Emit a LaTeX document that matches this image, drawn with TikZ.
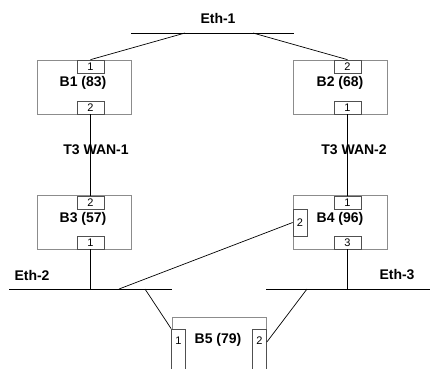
\documentclass[tikz,border=0pt]{standalone}
\usepackage{fontspec}
\setmainfont{Liberation Sans}
\usetikzlibrary{calc}
\definecolor{boxgray}{HTML}{8C8C8C}
\definecolor{portgray}{HTML}{505050}
\begin{document}
\begin{tikzpicture}[x=1pt,y=-1pt,
  bridge/.style={draw=boxgray,line width=0.9pt,inner sep=0pt,minimum width=94pt,minimum height=54pt},
  hport/.style={draw=portgray,fill=white,line width=0.7pt,inner sep=0pt,minimum width=27pt,minimum height=13pt,font=\fontsize{11}{11}\selectfont},
  vport/.style={draw=portgray,fill=white,line width=0.7pt,inner sep=0pt,minimum width=14pt,minimum height=27pt,font=\fontsize{11}{11}\selectfont},
  vportb/.style={vport,minimum height=41pt},
  lbl/.style={font=\fontsize{14}{14}\selectfont\bfseries,inner sep=0pt},
  lan/.style={line width=1pt},
  wire/.style={line width=0.7pt}]
\useasboundingbox (0,0) rectangle (430,368);
\clip (0,0) rectangle (430,368);
% LAN segments
\coordinate (e1w) at (131,33); \coordinate (e1e) at (294,33);
\coordinate (e2w) at (9,289);  \coordinate (e2e) at (172,289);
\coordinate (e3w) at (266,289); \coordinate (e3e) at (430,289);
\draw[lan] (e1w) -- (e1e);
\draw[lan] (e2w) -- (e2e);
\draw[lan] (e3w) -- (e3e);
\node[lbl] (l1) at (218,18) {Eth-1};
\node[lbl] (l2) at (32,275) {Eth-2};
\node[lbl] (l3) at (397,274) {Eth-3};
% bridges
\node[bridge] (B1) at (84,87) {};
\node[bridge] (B2) at (340.5,87) {};
\node[bridge] (B3) at (84,222.5) {};
\node[bridge] (B4) at (340.5,222.5) {};
\node[bridge,minimum height=90pt] (B5) at (219.5,362) {};
\node[lbl] (t1) at (83,83) {B1 (83)};
\node[lbl] (t2) at (340,83) {B2 (68)};
\node[lbl] (t3) at (83,219) {B3 (57)};
\node[lbl] (t4) at (340,219) {B4 (96)};
\node[lbl] (t5) at (218,340) {B5 (79)};
% ports
\node[hport] (p11) at (90.5,66.5) {1};
\node[hport] (p12) at (90.5,107.5) {2};
\node[hport] (p22) at (347.5,66.5) {2};
\node[hport] (p21) at (347.5,107.5) {1};
\node[hport] (p32) at (90.5,202.5) {2};
\node[hport] (p31) at (90.5,242.5) {1};
\node[hport] (p41) at (347.5,202.5) {1};
\node[hport] (p43) at (347.5,242.5) {3};
\node[vport] (p42) at (300,222.5) {2};
\node[vportb] (p51) at (178.5,349.5) {};
\node[vportb] (p52) at (259.5,349.5) {};
\node[font=\fontsize{11}{11}\selectfont,inner sep=0pt] (n51) at (178.5,341) {1};
\node[font=\fontsize{11}{11}\selectfont,inner sep=0pt] (n52) at (259.5,341) {2};
% links
\draw[wire] (185,33) -- (p11.north);
\draw[wire] (253,33) -- (p22.north);
\draw[wire] (p12.south) -- (p32.north);
\draw[wire] (p21.south) -- (p41.north);
\draw[wire] (p31.south) -- (p31.south |- e2w);
\draw[wire] (p43.south) -- (p43.south |- e3w);
\draw[wire] (119,289) -- (p42.west);
\draw[wire] (145,289) -- (p51.north west);
\draw[wire] (307,289) -- ([yshift=7.5pt]p52.east);
\node[lbl,fill=none] (w1) at (96,150) {T3 WAN-1};
\node[lbl,fill=none] (w2) at (354,150) {T3 WAN-2};
\end{tikzpicture}
\end{document}
